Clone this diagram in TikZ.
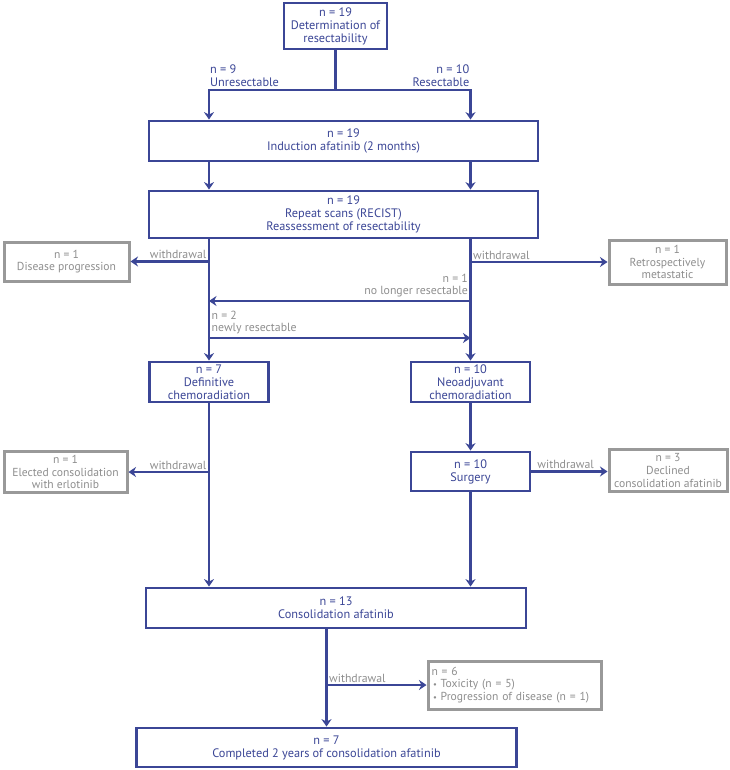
\documentclass[tikz,border=0pt]{standalone}
\usepackage{fontspec}
\setmainfont{PT Sans}
\usetikzlibrary{arrows.meta,calc}
\definecolor{flowblue}{HTML}{3B4696}
\definecolor{flowgray}{HTML}{8E8E8E}
\begin{document}
\begin{tikzpicture}[x=1pt,y=-1pt,
  every node/.style={font=\fontsize{12.3}{13}\selectfont},
  bluebox/.style={draw=flowblue,line width=2.8pt,text=flowblue,align=center,inner sep=0pt,fill=white},
  graybox/.style={draw=flowgray!90,line width=3pt,text=flowgray,align=center,inner sep=0pt,fill=white,font=\fontsize{11.6}{12.6}\selectfont},
  conn/.style={draw=flowblue,line width=2.8pt},
  arr/.style={conn,-{Stealth[length=7.5pt,width=10pt,inset=2.5pt]}},
  glabel/.style={text=flowgray,inner sep=1pt,font=\fontsize{11.8}{12.8}\selectfont},
  blabel/.style={text=flowblue,inner sep=1pt}]
\useasboundingbox (0,0) rectangle (729,770);

% named columns and rows
\coordinate (L) at (209,0);
\coordinate (R) at (470.5,0);
\coordinate (M) at (326.5,0);
\coordinate (split) at (335.5,90);
\coordinate (y1) at (0,301);
\coordinate (y2) at (0,338);

% main boxes
\node[bluebox,minimum width=103pt,minimum height=46pt] (top) at (335.5,26) {n = 19\\Determination of\\resectability};
\node[bluebox,minimum width=389pt,minimum height=40pt] (induct) at (343.5,141) {n = 19\\Induction afatinib (2 months)};
\node[bluebox,minimum width=389pt,minimum height=47pt] (repeat) at (343.5,214.5) {n = 19\\Repeat scans (RECIST)\\Reassessment of resectability};
\node[bluebox,minimum width=119pt,minimum height=40pt] (defin) at (209,382) {n = 7\\Definitive\\chemoradiation};
\node[bluebox,minimum width=119pt,minimum height=40pt] (neo) at (470.5,382) {n = 10\\Neoadjuvant\\chemoradiation};
\node[bluebox,minimum width=119pt,minimum height=39pt] (surg) at (470.5,471.5) {n = 10\\Surgery};
\node[bluebox,minimum width=380pt,minimum height=40pt] (cons) at (336,608) {n = 13\\Consolidation afatinib};
\node[bluebox,minimum width=380pt,minimum height=39pt] (final) at (326.5,747.5) {n = 7\\Completed 2 years of consolidation afatinib};

% withdrawal boxes
\node[graybox,minimum width=125pt,minimum height=39pt] (dis) at (66.5,261.5) {n = 1\\Disease progression};
\node[graybox,minimum width=117pt,minimum height=44pt] (retro) at (667.5,262) {n = 1\\Retrospectively\\metastatic};
\node[graybox,minimum width=123pt,minimum height=41pt] (elect) at (65.5,472) {n = 1\\Elected consolidation\\with erlotinib};
\node[graybox,minimum width=118pt,minimum height=42pt] (decl) at (668,470.5) {n = 3\\Declined\\consolidation afatinib};
\node[graybox,minimum width=173pt,minimum height=48pt,align=left,text width=166pt] (w6) at (514.5,685)
  {n = 6\\\hspace*{1.5pt}{\fontsize{8.5}{8}\selectfont\textbullet}\ Toxicity (n = 5)\\\hspace*{1.5pt}{\fontsize{8.5}{8}\selectfont\textbullet}\ Progression of disease (n = 1)};

% top split
\draw[conn] (top.south) -- (split);
\draw[arr] (split) -| (induct.north -| L);
\draw[arr] (split) -| (induct.north -| R);
\node[blabel,anchor=south west,align=left] at ([yshift=2.5pt]split -| L) {n = 9\\Unresectable};
\node[blabel,anchor=south east,align=right] at ([yshift=2.5pt]split -| R) {n = 10\\Resectable};

% induction to repeat
\draw[arr] (induct.south -| L) -- (repeat.north -| L);
\draw[arr] (induct.south -| R) -- (repeat.north -| R);

% repeat to arms
\draw[arr] (repeat.south -| L) -- (defin.north);
\draw[arr] (repeat.south -| R) -- (neo.north);

% withdrawals after repeat
\draw[arr] (dis.east -| L) -- (dis.east);
\node[glabel,anchor=south east] at ([shift={(-1.5pt,1.5pt)}]dis.east -| L) {withdrawal};
\draw[arr] (retro.west -| R) -- (retro.west);
\node[glabel,anchor=south west] at ([shift={(1.5pt,1.5pt)}]retro.west -| R) {withdrawal};

% crossovers
\draw[arr] (R |- y1) -- (L |- y1);
\node[glabel,anchor=south east,align=right] at ([shift={(-1.5pt,2.5pt)}]R |- y1) {n = 1\\no longer resectable};
\draw[arr] (L |- y2) -- (R |- y2);
\node[glabel,anchor=south west,align=left] at ([shift={(1.5pt,2.5pt)}]L |- y2) {n = 2\\newly resectable};

% arms
\draw[arr] (neo) -- (surg);
\draw[arr] (defin) -- (cons.north -| L);
\draw[arr] (surg) -- (cons.north -| R);
\draw[arr] (elect.east -| L) -- (elect.east);
\node[glabel,anchor=south east] at ([shift={(-1.5pt,1.5pt)}]elect.east -| L) {withdrawal};
\draw[arr] (surg.east) -- (decl.west |- surg.east);
\node[glabel,anchor=south] at ([yshift=1.5pt]$(surg.east)!0.45!(decl.west |- surg.east)$) {withdrawal};

% consolidation
\draw[arr] (cons.south -| M) -- (final.north);
\draw[arr] (w6.west -| M) -- (w6.west);
\node[glabel,anchor=south west] at ([shift={(1.5pt,1.5pt)}]w6.west -| M) {withdrawal};
\end{tikzpicture}
\end{document}
